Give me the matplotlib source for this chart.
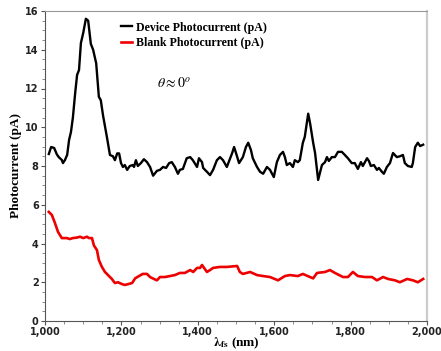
import matplotlib
matplotlib.use("Agg")
import matplotlib.pyplot as plt
from matplotlib.ticker import MultipleLocator, FuncFormatter

# Wavelength (nm) and photocurrent (pA) for the device measurement
device_wl = [1010, 1016, 1024, 1031, 1036, 1044, 1047, 1052, 1058, 1063, 1068, 1073,
             1079, 1084, 1089, 1094, 1100, 1107, 1113, 1120, 1126, 1134, 1141, 1146,
             1152, 1162, 1170, 1178, 1183, 1189, 1194, 1199, 1204, 1209, 1215, 1222,
             1230, 1233, 1238, 1243, 1251, 1259, 1267, 1275, 1283, 1293, 1301, 1309,
             1317, 1325, 1332, 1340, 1348, 1353, 1361, 1371, 1380, 1387, 1398, 1403,
             1411, 1414, 1424, 1432, 1440, 1450, 1458, 1466, 1476, 1490, 1495, 1500,
             1508, 1518, 1526, 1532, 1539, 1544, 1555, 1563, 1571, 1581, 1589, 1599,
             1607, 1615, 1623, 1628, 1633, 1641, 1649, 1654, 1662, 1667, 1675, 1680,
             1689, 1694, 1702, 1707, 1715, 1725, 1733, 1738, 1743, 1751, 1759, 1767,
             1777, 1785, 1793, 1803, 1811, 1819, 1827, 1832, 1843, 1848, 1853, 1861,
             1869, 1874, 1882, 1887, 1895, 1903, 1911, 1921, 1929, 1937, 1942, 1950,
             1960, 1963, 1969, 1976, 1982, 1990]
device_pa = [8.62, 8.98, 8.93, 8.60, 8.46, 8.31, 8.15, 8.30, 8.57, 9.34, 9.76, 10.5,
             11.77, 12.7, 12.95, 14.35, 14.86, 15.6, 15.5, 14.3, 14.0, 13.3, 11.57, 11.4,
             10.6, 9.5, 8.57, 8.50, 8.30, 8.65, 8.65, 8.15, 7.95, 8.05, 7.80, 8.00,
             8.05, 7.95, 8.30, 8.00, 8.15, 8.35, 8.20, 7.95, 7.50, 7.75, 7.80, 7.95,
             7.90, 8.15, 8.20, 7.95, 7.60, 7.80, 7.85, 8.40, 8.46, 8.30, 7.95, 8.40,
             8.20, 7.90, 7.70, 7.53, 7.80, 8.30, 8.46, 8.30, 7.95, 8.67, 8.98, 8.67,
             8.15, 8.46, 8.98, 9.20, 8.83, 8.40, 7.95, 7.70, 7.60, 7.95, 7.80, 7.43,
             8.20, 8.57, 8.73, 8.46, 8.05, 8.15, 7.95, 8.30, 8.20, 8.30, 9.20, 9.50,
             10.7, 10.2, 9.20, 8.67, 7.28, 8.05, 8.20, 8.46, 8.26, 8.46, 8.46, 8.73,
             8.73, 8.57, 8.40, 8.15, 8.15, 7.85, 8.20, 8.00, 8.40, 8.26, 8.00, 8.05,
             7.80, 7.90, 7.70, 7.60, 7.95, 8.15, 8.67, 8.46, 8.50, 8.57, 8.15, 8.00,
             7.95, 8.15, 8.98, 9.20, 9.03, 9.10]

# Wavelength (nm) and photocurrent (pA) for the blank measurement
blank_wl = [1010, 1018, 1026, 1034, 1044, 1057, 1065, 1073, 1082, 1092, 1100, 1110,
            1115, 1123, 1128, 1136, 1141, 1149, 1157, 1165, 1175, 1183, 1191, 1202,
            1209, 1217, 1228, 1236, 1246, 1256, 1267, 1275, 1285, 1293, 1301, 1314,
            1327, 1340, 1353, 1366, 1380, 1388, 1398, 1406, 1411, 1424, 1432, 1440,
            1458, 1476, 1503, 1510, 1518, 1537, 1555, 1571, 1589, 1610, 1628, 1641,
            1662, 1675, 1690, 1702, 1712, 1733, 1746, 1759, 1780, 1793, 1806, 1819,
            1838, 1856, 1869, 1885, 1898, 1916, 1929, 1948, 1963, 1976, 1990]
blank_pa = [5.63, 5.47, 5.06, 4.60, 4.28, 4.28, 4.23, 4.28, 4.30, 4.35, 4.28, 4.35,
            4.28, 4.28, 3.90, 3.66, 3.15, 2.79, 2.53, 2.37, 2.17, 1.96, 2.00, 1.90,
            1.86, 1.90, 1.96, 2.20, 2.32, 2.43, 2.43, 2.27, 2.17, 2.10, 2.27, 2.27,
            2.32, 2.37, 2.48, 2.48, 2.63, 2.53, 2.74, 2.74, 2.89, 2.53, 2.63, 2.74,
            2.79, 2.79, 2.84, 2.53, 2.43, 2.53, 2.37, 2.32, 2.27, 2.10, 2.32, 2.37,
            2.32, 2.43, 2.30, 2.20, 2.48, 2.53, 2.63, 2.48, 2.27, 2.27, 2.53, 2.32,
            2.27, 2.27, 2.10, 2.27, 2.17, 2.10, 2.00, 2.17, 2.10, 2.00, 2.17]

series_labels = ["Device Photocurrent (pA)", "Blank Photocurrent (pA)"]

plt.rcParams["mathtext.fontset"] = "stix"
serif = "Liberation Serif"

fig = plt.figure(figsize=(4.41, 3.51), dpi=100)
ax = fig.add_axes([45 / 441, 30 / 351, 382 / 441, 310 / 351])

ax.plot(device_wl, device_pa, color="black", lw=1.7, label=series_labels[0])
ax.plot(blank_wl, blank_pa, color="#ee0000", lw=1.9, label=series_labels[1])

ax.set_xlim(1000, 2000)
ax.set_ylim(0, 16)
ax.xaxis.set_major_locator(MultipleLocator(200))
ax.xaxis.set_minor_locator(MultipleLocator(50))
ax.yaxis.set_major_locator(MultipleLocator(2))
ax.yaxis.set_minor_locator(MultipleLocator(0.5))
ax.xaxis.set_major_formatter(FuncFormatter(lambda v, p: f"{int(v):,}"))
ax.tick_params(which="major", direction="out", length=3, width=0.8, color="#555555",
               labelsize=7, pad=1.5)
ax.tick_params(which="minor", direction="out", length=2, width=0.6, color="#777777")
for lab in ax.get_xticklabels() + ax.get_yticklabels():
    lab.set_fontweight("bold")
    lab.set_color("#222222")

ax.spines["left"].set_color("#555555")
ax.spines["bottom"].set_color("#555555")
ax.spines["top"].set_color("#999999")
ax.spines["right"].set_color("#cccccc")
ax.spines["right"].set_linewidth(1.6)

ax.set_ylabel("Photocurrent (pA)", fontfamily=serif, fontweight="bold", fontsize=9.5,
              labelpad=2.5)
ax.set_xlabel(r"$\mathbf{\lambda_{fs}}$ (nm)", fontfamily=serif, fontweight="bold",
              fontsize=9.5, labelpad=-1)

ax.text(1338, 12.3, r"$\theta \approx 0^o$", fontsize=10, ha="center", va="center")

leg = ax.legend(loc="upper left", bbox_to_anchor=(0.183, 0.985), frameon=False,
                handlelength=0.9, handletextpad=0.35, labelspacing=0.3, borderpad=0,
                prop={"family": serif, "weight": "bold", "size": 8.6})

fig.savefig("out.png", dpi=100)
